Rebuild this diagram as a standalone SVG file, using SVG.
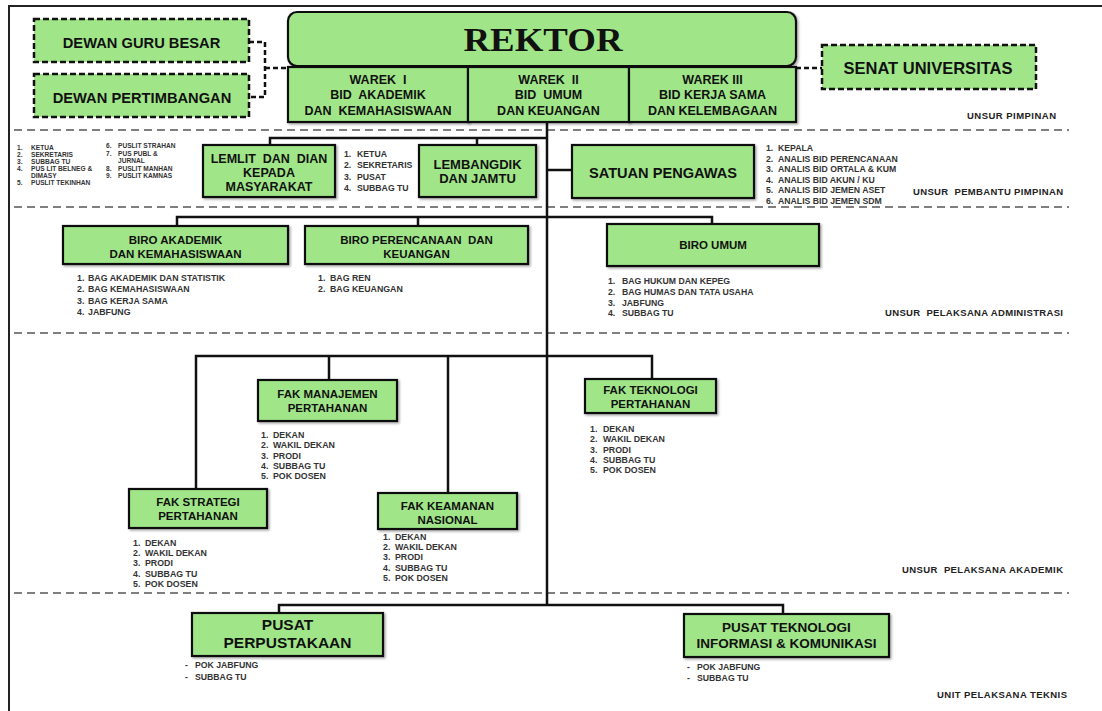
<svg xmlns="http://www.w3.org/2000/svg" width="1102" height="711" viewBox="0 0 1102 711">
<defs>
<filter id="sh" x="-5%" y="-5%" width="115%" height="125%">
<feDropShadow dx="1.5" dy="1.5" stdDeviation="1" flood-color="#000" flood-opacity="0.35"/>
</filter>
</defs>
<style>
.box{fill:#a0e688;stroke:#111;stroke-width:2.2;filter:url(#sh)}
.dbox{fill:#a0e688;stroke:#111;stroke-width:2.5;stroke-dasharray:6 3}
.sep{fill:none;stroke:#555;stroke-width:1.5;stroke-dasharray:8 5}
.con{fill:none;stroke:#111;stroke-width:2.5}
.dcon{fill:none;stroke:#111;stroke-width:2.5;stroke-dasharray:5 3}
.t{font-family:"Liberation Sans",Arial,sans-serif;font-weight:bold;fill:#111;text-anchor:middle;white-space:pre}
.l{font-family:"Liberation Sans",Arial,sans-serif;font-weight:bold;fill:#333;white-space:pre}
.u{font-family:"Liberation Sans",Arial,sans-serif;font-weight:bold;fill:#222;font-size:9.5px;text-anchor:end;white-space:pre}
</style>
<rect width="1102" height="711" fill="#fff"/>
<path d="M9,711 V6 H1102" fill="none" stroke="#222" stroke-width="2"/>
<g id="separators">
<line class="sep" x1="14" y1="130" x2="1069" y2="130"/>
<line class="sep" x1="14" y1="207" x2="1069" y2="207"/>
<line class="sep" x1="14" y1="333" x2="1069" y2="333"/>
<line class="sep" x1="14" y1="593" x2="1069" y2="593"/>
</g>
<g id="connectors">
<path class="dcon" d="M249,42 H265 V97 H249 M265,68 H288"/>
<path class="dcon" d="M796,68 H822"/>
<path class="con" d="M547,122 V605"/>
<path class="con" d="M270,145 V138 H547 M477,138 V145"/>
<path class="con" d="M547,170 H572"/>
<path class="con" d="M177,226 V217 H712 V224 M418,217 V226"/>
<path class="con" d="M196,489 V356 H652 V379 M329,356 V380 M448,356 V493"/>
<path class="con" d="M279,613 V605 H783 V613"/>
</g>
<g id="dewan-guru-besar">
<rect class="dbox" x="34" y="19" width="215" height="43"/>
<text class="t" x="141.5" y="47.5" font-size="14.7">DEWAN GURU BESAR</text>
</g>
<g id="dewan-pertimbangan">
<rect class="dbox" x="34" y="74" width="215" height="43"/>
<text class="t" x="142" y="102.5" font-size="14.7">DEWAN PERTIMBANGAN</text>
</g>
<g id="senat">
<rect class="dbox" x="822" y="45" width="214" height="44"/>
<text class="t" x="928" y="74" font-size="16.5">SENAT UNIVERSITAS</text>
</g>
<g id="rektor">
<rect class="box" x="288" y="12" width="508" height="54" rx="9"/>
<text x="543" y="51" font-family="'Liberation Serif','Times New Roman',serif" font-weight="bold" font-size="33" text-anchor="middle" fill="#111" textLength="159" lengthAdjust="spacingAndGlyphs">REKTOR</text>
</g>
<g id="warek1">
<rect class="box" x="288" y="67" width="180" height="55"/>
<text class="t" font-size="12.5"><tspan x="378" y="83.5">WAREK  I</tspan><tspan x="378" y="99">BID  AKADEMIK</tspan><tspan x="378" y="114.5">DAN  KEMAHASISWAAN</tspan></text>
</g>
<g id="warek2">
<rect class="box" x="468" y="67" width="161" height="55"/>
<text class="t" font-size="12.5"><tspan x="548.5" y="83.5">WAREK  II</tspan><tspan x="548.5" y="99">BID  UMUM</tspan><tspan x="548.5" y="114.5">DAN KEUANGAN</tspan></text>
</g>
<g id="warek3">
<rect class="box" x="629" y="67" width="167" height="55"/>
<text class="t" font-size="12.5"><tspan x="712.5" y="83.5">WAREK III</tspan><tspan x="712.5" y="99">BID KERJA SAMA</tspan><tspan x="712.5" y="114.5">DAN KELEMBAGAAN</tspan></text>
</g>
<text class="u" x="1056" y="119" textLength="89">UNSUR PIMPINAN</text>
<g id="lemlit-list" class="l" font-size="6.6">
<text y="149.5"><tspan x="17">1.</tspan><tspan x="31">KETUA</tspan></text>
<text y="156.5"><tspan x="17">2.</tspan><tspan x="31">SEKRETARIS</tspan></text>
<text y="163.5"><tspan x="17">3.</tspan><tspan x="31">SUBBAG TU</tspan></text>
<text y="170.5"><tspan x="17">4.</tspan><tspan x="31">PUS LIT BELNEG &amp;</tspan></text>
<text y="177.5"><tspan x="31">DIMASY</tspan></text>
<text y="185"><tspan x="17">5.</tspan><tspan x="31">PUSLIT TEKINHAN</tspan></text>
<text y="148"><tspan x="106">6.</tspan><tspan x="118">PUSLIT STRAHAN</tspan></text>
<text y="156"><tspan x="106">7.</tspan><tspan x="118">PUS PUBL  &amp;</tspan></text>
<text y="163"><tspan x="118">JURNAL</tspan></text>
<text y="170.5"><tspan x="106">8.</tspan><tspan x="118">PUSLIT MANHAN</tspan></text>
<text y="177.5"><tspan x="106">9.</tspan><tspan x="118">PUSLIT KAMNAS</tspan></text>
</g>
<g id="lemlit">
<rect class="box" x="203" y="145" width="132" height="52"/>
<text class="t" font-size="12.5"><tspan x="269" y="163">LEMLIT  DAN  DIAN</tspan><tspan x="269" y="176.5">KEPADA</tspan><tspan x="269" y="190.5">MASYARAKAT</tspan></text>
</g>
<g class="l" font-size="8.7">
<text y="156.5"><tspan x="344">1.</tspan><tspan x="357">KETUA</tspan></text>
<text y="168"><tspan x="344">2.</tspan><tspan x="357">SEKRETARIS</tspan></text>
<text y="179.5"><tspan x="344">3.</tspan><tspan x="357">PUSAT</tspan></text>
<text y="191"><tspan x="344">4.</tspan><tspan x="357">SUBBAG TU</tspan></text>
</g>
<g id="lembangdik">
<rect class="box" x="419" y="145" width="117" height="52"/>
<text class="t" font-size="13"><tspan x="477.5" y="168.5">LEMBANGDIK</tspan><tspan x="477.5" y="183">DAN JAMTU</tspan></text>
</g>
<g id="satuan-pengawas">
<rect class="box" x="572" y="145" width="182" height="53"/>
<text class="t" x="663" y="178" font-size="14.6">SATUAN PENGAWAS</text>
</g>
<g class="l" font-size="8.7">
<text y="151"><tspan x="766">1.</tspan><tspan x="778">KEPALA</tspan></text>
<text y="161.5"><tspan x="766">2.</tspan><tspan x="778">ANALIS BID PERENCANAAN</tspan></text>
<text y="172"><tspan x="766">3.</tspan><tspan x="778">ANALIS BID ORTALA &amp; KUM</tspan></text>
<text y="182.5"><tspan x="766">4.</tspan><tspan x="778">ANALIS BID AKUN / KU</tspan></text>
<text y="193"><tspan x="766">5.</tspan><tspan x="778">ANALIS BID JEMEN ASET</tspan></text>
<text y="203.5"><tspan x="766">6.</tspan><tspan x="778">ANALIS BID JEMEN SDM</tspan></text>
</g>
<text class="u" x="1063" y="195" textLength="150">UNSUR  PEMBANTU PIMPINAN</text>
<g id="biro-akademik">
<rect class="box" x="63" y="226" width="225" height="38"/>
<text class="t" font-size="11.5"><tspan x="175.5" y="244">BIRO AKADEMIK</tspan><tspan x="175.5" y="257.5">DAN KEMAHASISWAAN</tspan></text>
</g>
<g class="l" font-size="8.8">
<text y="280.5"><tspan x="77">1.</tspan><tspan x="88">BAG AKADEMIK  DAN  STATISTIK</tspan></text>
<text y="292"><tspan x="77">2.</tspan><tspan x="88">BAG KEMAHASISWAAN</tspan></text>
<text y="303.5"><tspan x="77">3.</tspan><tspan x="88">BAG KERJA  SAMA</tspan></text>
<text y="315"><tspan x="77">4.</tspan><tspan x="88">JABFUNG</tspan></text>
</g>
<g id="biro-perencanaan">
<rect class="box" x="305" y="226" width="223" height="38"/>
<text class="t" font-size="11.5"><tspan x="416.5" y="244">BIRO PERENCANAAN  DAN</tspan><tspan x="416.5" y="257.5">KEUANGAN</tspan></text>
</g>
<g class="l" font-size="8.8">
<text y="280.5"><tspan x="318">1.</tspan><tspan x="330">BAG  REN</tspan></text>
<text y="292"><tspan x="318">2.</tspan><tspan x="330">BAG  KEUANGAN</tspan></text>
</g>
<g id="biro-umum">
<rect class="box" x="607" y="224" width="212" height="42"/>
<text class="t" x="713" y="249" font-size="11.5">BIRO UMUM</text>
</g>
<g class="l" font-size="8.7">
<text y="284"><tspan x="608">1.</tspan><tspan x="622">BAG HUKUM DAN KEPEG</tspan></text>
<text y="294.5"><tspan x="608">2.</tspan><tspan x="622">BAG HUMAS DAN TATA USAHA</tspan></text>
<text y="305.5"><tspan x="608">3.</tspan><tspan x="622">JABFUNG</tspan></text>
<text y="316"><tspan x="608">4.</tspan><tspan x="622">SUBBAG TU</tspan></text>
</g>
<text class="u" x="1063" y="316" textLength="178">UNSUR  PELAKSANA ADMINISTRASI</text>
<g id="fak-manajemen">
<rect class="box" x="258" y="380" width="139" height="41"/>
<text class="t" font-size="11.5"><tspan x="327.5" y="398">FAK MANAJEMEN</tspan><tspan x="327.5" y="412">PERTAHANAN</tspan></text>
</g>
<g class="l" font-size="8.8">
<text y="438"><tspan x="261">1.</tspan><tspan x="273">DEKAN</tspan></text>
<text y="448.3"><tspan x="261">2.</tspan><tspan x="273">WAKIL DEKAN</tspan></text>
<text y="458.7"><tspan x="261">3.</tspan><tspan x="273">PRODI</tspan></text>
<text y="469"><tspan x="261">4.</tspan><tspan x="273">SUBBAG TU</tspan></text>
<text y="479.3"><tspan x="261">5.</tspan><tspan x="273">POK DOSEN</tspan></text>
</g>
<g id="fak-strategi">
<rect class="box" x="129" y="489" width="138" height="39"/>
<text class="t" font-size="11.5"><tspan x="198" y="506">FAK STRATEGI</tspan><tspan x="198" y="520">PERTAHANAN</tspan></text>
</g>
<g class="l" font-size="8.8">
<text y="545.7"><tspan x="133">1.</tspan><tspan x="145">DEKAN</tspan></text>
<text y="556"><tspan x="133">2.</tspan><tspan x="145">WAKIL DEKAN</tspan></text>
<text y="566.3"><tspan x="133">3.</tspan><tspan x="145">PRODI</tspan></text>
<text y="576.7"><tspan x="133">4.</tspan><tspan x="145">SUBBAG TU</tspan></text>
<text y="587"><tspan x="133">5.</tspan><tspan x="145">POK DOSEN</tspan></text>
</g>
<g id="fak-keamanan">
<rect class="box" x="378" y="493" width="139" height="36"/>
<text class="t" font-size="11.5"><tspan x="447.5" y="510">FAK KEAMANAN</tspan><tspan x="447.5" y="523.5">NASIONAL</tspan></text>
</g>
<g class="l" font-size="8.8">
<text y="539.7"><tspan x="383">1.</tspan><tspan x="395">DEKAN</tspan></text>
<text y="550"><tspan x="383">2.</tspan><tspan x="395">WAKIL DEKAN</tspan></text>
<text y="560.3"><tspan x="383">3.</tspan><tspan x="395">PRODI</tspan></text>
<text y="570.7"><tspan x="383">4.</tspan><tspan x="395">SUBBAG TU</tspan></text>
<text y="581"><tspan x="383">5.</tspan><tspan x="395">POK DOSEN</tspan></text>
</g>
<g id="fak-teknologi">
<rect class="box" x="585" y="379" width="131" height="34"/>
<text class="t" font-size="11.5"><tspan x="650.5" y="393.5">FAK TEKNOLOGI</tspan><tspan x="650.5" y="407.5">PERTAHANAN</tspan></text>
</g>
<g class="l" font-size="8.8">
<text y="432"><tspan x="590">1.</tspan><tspan x="603">DEKAN</tspan></text>
<text y="442.3"><tspan x="590">2.</tspan><tspan x="603">WAKIL DEKAN</tspan></text>
<text y="452.6"><tspan x="590">3.</tspan><tspan x="603">PRODI</tspan></text>
<text y="463"><tspan x="590">4.</tspan><tspan x="603">SUBBAG TU</tspan></text>
<text y="473.3"><tspan x="590">5.</tspan><tspan x="603">POK DOSEN</tspan></text>
</g>
<text class="u" x="1063" y="573" textLength="161">UNSUR  PELAKSANA AKADEMIK</text>
<g id="pusat-perpustakaan">
<rect class="box" x="192" y="613" width="191" height="43"/>
<text class="t" font-size="15.5"><tspan x="287.5" y="629.5">PUSAT</tspan><tspan x="287.5" y="647.5">PERPUSTAKAAN</tspan></text>
</g>
<g class="l" font-size="8.7">
<text y="668"><tspan x="185">-</tspan><tspan x="195">POK JABFUNG</tspan></text>
<text y="679.5"><tspan x="185">-</tspan><tspan x="195">SUBBAG TU</tspan></text>
</g>
<g id="pusat-tik">
<rect class="box" x="684" y="614" width="205" height="43"/>
<text class="t" font-size="13.5"><tspan x="786.5" y="632">PUSAT TEKNOLOGI</tspan><tspan x="786.5" y="647.5">INFORMASI &amp; KOMUNIKASI</tspan></text>
</g>
<g class="l" font-size="8.7">
<text y="670"><tspan x="687">-</tspan><tspan x="697">POK JABFUNG</tspan></text>
<text y="681"><tspan x="687">-</tspan><tspan x="697">SUBBAG  TU</tspan></text>
</g>
<text class="u" x="1067" y="698" textLength="130">UNIT PELAKSANA TEKNIS</text>
</svg>
